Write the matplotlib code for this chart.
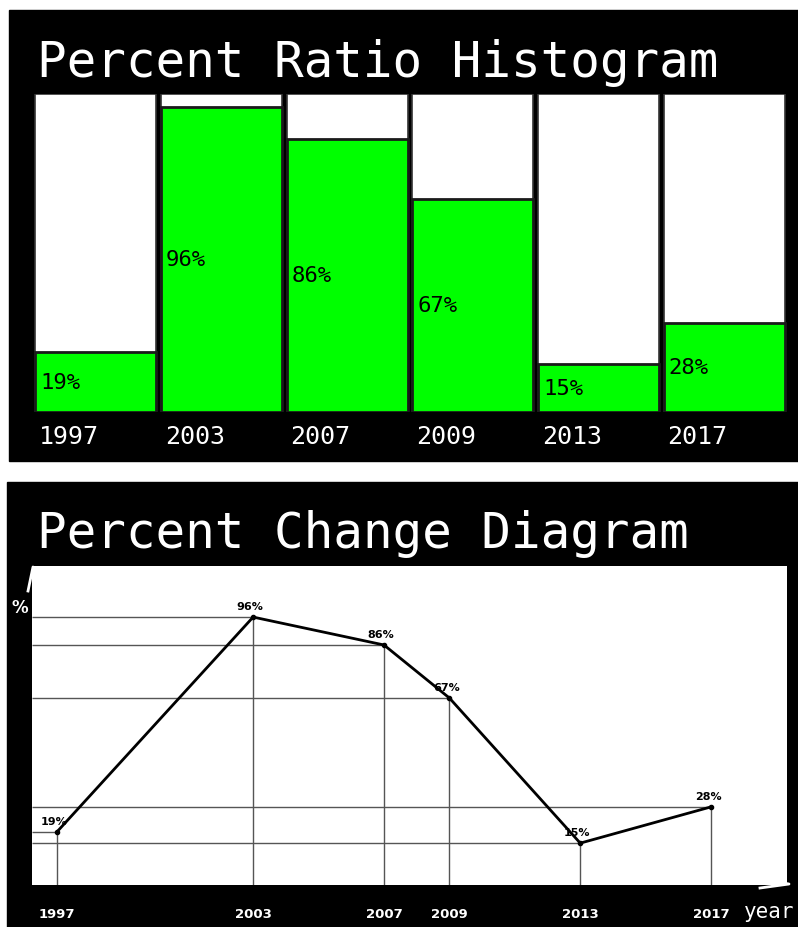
import matplotlib
matplotlib.use("Agg")
import matplotlib.pyplot as plt
from matplotlib.patches import Rectangle

# data
years = [1997, 2003, 2007, 2009, 2013, 2017]
percents = [19, 96, 86, 67, 15, 28]
year_labels = [str(y) for y in years]

W, H = 798, 928
MONO = "DejaVu Sans Mono"
GREEN = "#00ff00"


def px_axes(fig, left, top, right, bottom):
    """Add axes given pixel box (origin top-left)."""
    return fig.add_axes([left / W, (H - bottom) / H, (right - left) / W, (bottom - top) / H])


fig = plt.figure(figsize=(W / 100, H / 100), dpi=100)
fig.patch.set_facecolor("white")

# background layer in pixel coordinates: black panels, titles, axis arrows
bg = fig.add_axes([0, 0, 1, 1])
bg.set_xlim(0, W)
bg.set_ylim(H, 0)
bg.axis("off")
bg.add_patch(Rectangle((9, 11), W - 9, 451, color="black"))
bg.add_patch(Rectangle((7, 483), W - 7, H - 483, color="black"))
bg.text(37, 77, "Percent Ratio Histogram", color="white", fontsize=35.5,
        family=MONO, va="baseline", ha="left")
bg.text(37, 548, "Percent Change Diagram", color="white", fontsize=35.5,
        family=MONO, va="baseline", ha="left")
bg.plot([28, 33, 37], [592, 568, 590], color="white", lw=2)
bg.plot([760, 789, 760], [880, 885, 889], color="white", lw=2)
bg.text(20, 608, "%", color="white", fontsize=12, fontweight="bold",
        ha="center", va="center")
bg.text(744, 918, "year", color="white", fontsize=15, family=MONO,
        ha="left", va="baseline")

# ---- top panel: ratio histogram ----
ax1 = px_axes(fig, 33, 95, 787, 413)
ax1.set_facecolor("none")
x = list(range(len(years)))
bw = 0.965
ax1.bar(x, [100] * len(x), width=bw, color="white", edgecolor="#333333", lw=1.2)
ax1.bar(x, percents, width=bw, color=GREEN, edgecolor="#1a1a1a", lw=2)
for i, (lab, v) in enumerate(zip(year_labels, percents)):
    ax1.text(i - bw / 2 + 0.04, v / 2, f"{v}%", family=MONO, fontsize=16,
             color="black", ha="left", va="center")
    ax1.text(i - bw / 2 + 0.03, -7.5, lab, family=MONO, fontsize=18,
             color="white", ha="left", va="center", clip_on=False)
ax1.set_xlim(-0.5, len(x) - 0.5)
ax1.set_ylim(0, 100)
ax1.axis("off")

# ---- bottom panel: change diagram ----
ax2 = px_axes(fig, 32, 567, 787, 886)
ax2.set_facecolor("white")
x0, x1 = 1996.24, 2019.32
ax2.set_xlim(x0, x1)
ax2.set_ylim(0, 114.3)
ax2.hlines(percents, x0, years, color="#555555", lw=1)
ax2.vlines(years, 0, percents, color="#555555", lw=1)
ax2.plot(years, percents, color="black", lw=2, marker="o", ms=3)
for yr, v in zip(years, percents):
    ax2.annotate(f"{v}%", (yr, v), textcoords="offset pixels", xytext=(-3, 6),
                 ha="center", va="bottom", fontsize=8, fontweight="bold")
for s in ax2.spines.values():
    s.set_visible(False)
ax2.set_xticks(years)
ax2.set_xticklabels(year_labels, color="white", fontsize=9.5, fontweight="bold")
ax2.tick_params(axis="x", length=0, pad=16)
ax2.set_yticks([])

fig.savefig("out.png", dpi=100, facecolor="white")
